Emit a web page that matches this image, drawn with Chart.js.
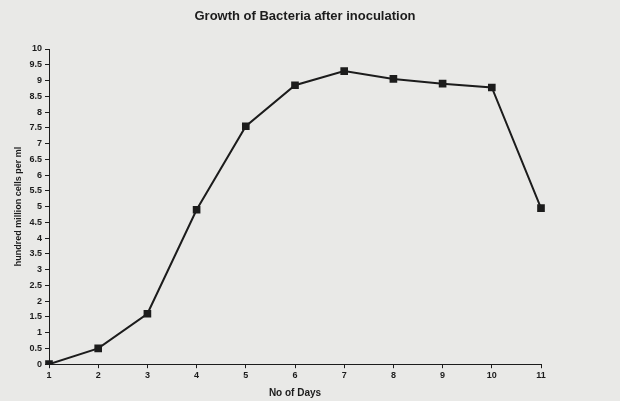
<!DOCTYPE html>
<html>
<head>
<meta charset="utf-8">
<script src="https://cdn.jsdelivr.net/npm/chart.js@4"></script>
<style>
  html, body { margin: 0; padding: 0; background: #e9e9e7; }
  #wrap { width: 620px; height: 401px; }
</style>
</head>
<body>
<div id="wrap"><canvas id="growthChart" width="620" height="401"></canvas></div>
<script>
const days = ["1", "2", "3", "4", "5", "6", "7", "8", "9", "10", "11"];
const cells = [0, 0.5, 1.6, 4.9, 7.55, 8.85, 9.3, 9.05, 8.9, 8.78, 4.95];

const ink = "#1c1c1c";

const paper = {
  id: "paper",
  beforeDraw(chart) {
    const c = chart.ctx;
    c.save();
    c.fillStyle = "#e9e9e7";
    c.fillRect(0, 0, chart.width, chart.height);
    c.restore();
  },
};

function createChart() {
  const ctx = document.getElementById("growthChart").getContext("2d");

  growthChart = new Chart(ctx, {
    type: "line",
    data: {
      labels: days,
      datasets: [
        {
          data: cells,
          label: "Bacteria",
          borderColor: ink,
          backgroundColor: ink,
          borderWidth: 2,
          pointStyle: "rect",
          pointRadius: 4,
          tension: 0,
          fill: false,
        },
      ],
    },
    options: {
      responsive: false,
      animation: false,
      layout: { padding: { left: 0, right: 10, top: 0, bottom: 0 } },
      plugins: {
        legend: { display: false },
        tooltip: { enabled: false },
        title: {
          display: true,
          text: "Growth of Bacteria after inoculation",
          color: ink,
          font: { family: "Liberation Sans", size: 13, weight: "bold" },
          padding: { top: 9, bottom: 24.4 },
        },
      },
      scales: {
        x: {
          offset: false,
          grid: { display: true, drawOnChartArea: false, tickLength: 4, color: ink },
          border: { color: ink, width: 1 },
          ticks: {
            color: ink,
            padding: 2,
            maxRotation: 0,
            font: { family: "Liberation Sans", size: 9, weight: "bold" },
          },
          title: {
            display: true,
            text: "No of Days",
            color: ink,
            font: { family: "Liberation Sans", size: 10, weight: "bold" },
            padding: { top: 4, bottom: 2 },
          },
        },
        y: {
          min: 0,
          max: 10,
          afterFit(scale) {
            scale.width = 49;
          },
          grid: { display: true, drawOnChartArea: false, tickLength: 4, color: ink },
          border: { color: ink, width: 1 },
          ticks: {
            stepSize: 0.5,
            autoSkip: false,
            color: ink,
            padding: 3,
            font: { family: "Liberation Sans", size: 9, weight: "bold" },
            callback: (v) => String(v),
          },
          title: {
            display: true,
            text: "hundred million cells per ml",
            color: ink,
            font: { family: "Liberation Sans", size: 9, weight: "bold" },
            padding: { top: 13.6, bottom: 0 },
          },
        },
        spacer: {
          type: "linear",
          position: "right",
          display: true,
          afterFit(scale) {
            scale.width = 69;
          },
          grid: { display: false },
          border: { display: false },
          ticks: { display: false },
        },
      },
    },
    plugins: [paper],
  });
}

createChart();
</script>
</body>
</html>
